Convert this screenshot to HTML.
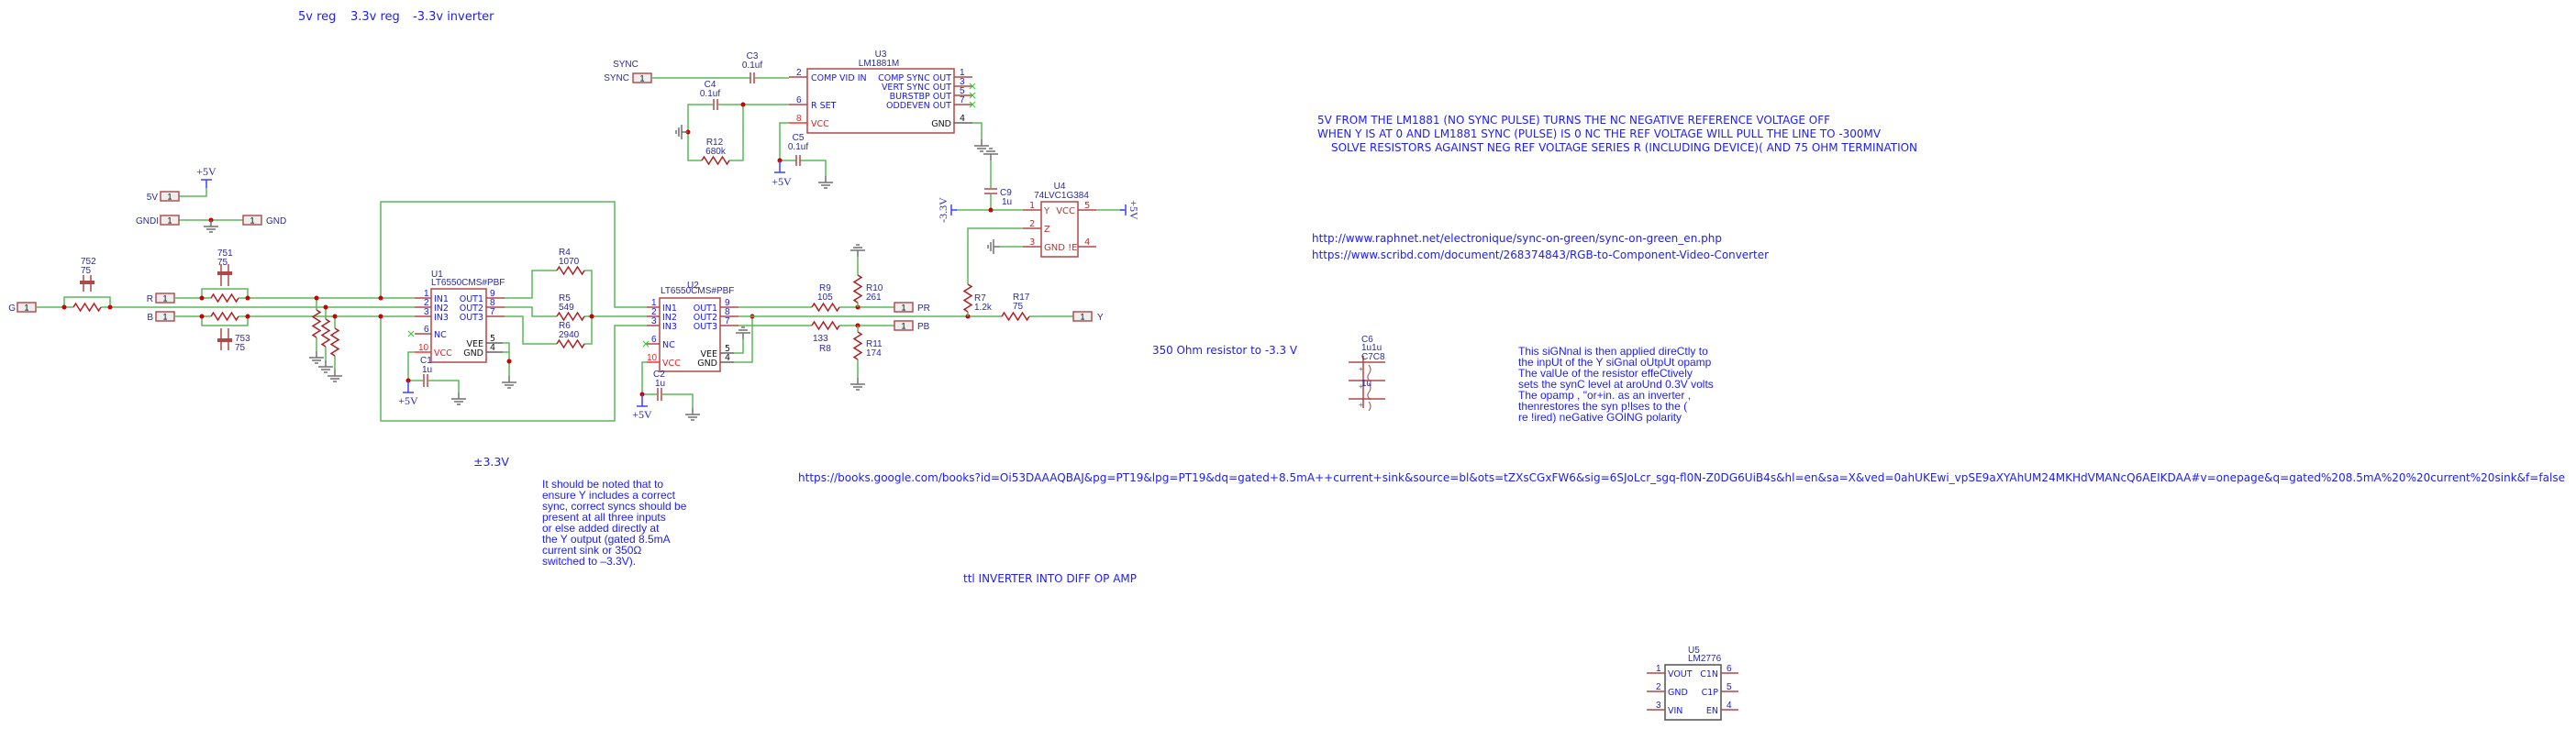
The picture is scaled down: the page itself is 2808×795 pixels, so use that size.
<!DOCTYPE html>
<html><head><meta charset="utf-8"><style>
html,body{margin:0;padding:0;background:#fff}
svg{display:block}
.w{stroke:#5cb85c;stroke-width:1.5;fill:none}
.c{stroke:#b04848;stroke-width:1.5;fill:none}
.g{stroke:#707070;stroke-width:1.5;fill:none}
.b{stroke:#4040ff;stroke-width:1.5;fill:none}
.k{stroke:#606060;stroke-width:1.5;fill:none}
.x{stroke:#33cc33;stroke-width:1.2}
text{font-family:"Liberation Sans",sans-serif}
.l{font-size:10px;fill:#2a2a9a}
.p{font-size:9.5px;fill:#1818e8;font-family:"DejaVu Sans",sans-serif}
.pr{font-size:9.5px;fill:#e02020;font-family:"DejaVu Sans",sans-serif}
.pk{font-size:9.5px;fill:#111;font-family:"DejaVu Sans",sans-serif}
.n{font-size:10px;fill:#1818e8}
.d{font-size:10px;fill:#a03c3c;font-family:"DejaVu Sans",sans-serif}
.t{font-family:"DejaVu Sans","Liberation Sans",sans-serif;fill:#2020ee}
.s{font-family:"Liberation Serif",serif;font-size:12px;fill:#2a2aa0}
.bx{fill:#eeeeee;stroke:#b05050;stroke-width:1.5}
</style></head><body>
<svg width="2808" height="795" viewBox="0 0 2808 795" xmlns="http://www.w3.org/2000/svg">
<defs>
<path id="rh" d="M0 0 L2.5 -4 L7.5 4 L12.5 -4 L17.5 4 L22.5 -4 L27.5 4 L30 0" stroke="#b02020" stroke-width="1.5" fill="none"/>
<g id="gd"><path d="M0 0 V7 M-8 7 H8 M-5 10 H5 M-2 13 H2" stroke="#707070" stroke-width="1.5" fill="none"/></g>
<g id="gu"><path d="M0 0 V-7 M-8 -7 H8 M-5 -10 H5 M-2 -13 H2" stroke="#707070" stroke-width="1.5" fill="none"/></g>
<g id="gl"><path d="M0 0 H-7 M-7 -8 V8 M-10 -5 V5 M-13 -2 V2" stroke="#707070" stroke-width="1.5" fill="none"/></g>
</defs>

<text class="t" x="325" y="22" font-size="13">5v reg</text>
<text class="t" x="382" y="22" font-size="13">3.3v reg</text>
<text class="t" x="450" y="22" font-size="13">-3.3v inverter</text>

<text class="s" x="225" y="191" text-anchor="middle">+5V</text>
<path class="b" d="M219 196 H231 M225 196 V205"/>
<path class="w" d="M225 205 V214 H195"/>
<rect class="bx" x="175" y="209" width="20" height="10"/><text x="185" y="217.5" font-size="9" text-anchor="middle">1</text>
<text class="l" x="172" y="218" text-anchor="end">5V</text>
<path class="w" d="M195 240 H265"/>
<rect class="bx" x="175" y="235" width="20" height="10"/><text x="185" y="243.5" font-size="9" text-anchor="middle">1</text>
<rect class="bx" x="265" y="235" width="20" height="10"/><text x="275" y="243.5" font-size="9" text-anchor="middle">1</text>
<text class="l" x="173" y="244" text-anchor="end">GNDI</text>
<text class="l" x="290" y="244">GND</text>
<circle cx="230" cy="240" r="2.5" fill="#cc0000"/>
<use href="#gd" x="230" y="240"/>

<rect class="bx" x="19" y="330" width="20" height="10"/><text x="29" y="338.5" font-size="9" text-anchor="middle">1</text>
<text class="l" x="17" y="339" text-anchor="end">G</text>
<path class="w" d="M39 335 H80 M110 335 H452 M70 335 V324 H120 V335"/>
<use href="#rh" x="80" y="335"/>
<circle cx="70" cy="335" r="2.5" fill="#cc0000"/><circle cx="120" cy="335" r="2.5" fill="#cc0000"/>
<path class="c" d="M91 300 V318 M99 300 V318"/><rect x="87" y="306" width="16" height="4" fill="#b04848"/>
<text class="l" x="88" y="288">752</text><text class="l" x="88" y="298">75</text>

<rect class="bx" x="170" y="320" width="20" height="10"/><text x="180" y="328.5" font-size="9" text-anchor="middle">1</text>
<text class="l" x="167" y="329" text-anchor="end">R</text>
<path class="w" d="M190 325 H230 M260 325 H452 M220 325 V315 H270 V325"/>
<use href="#rh" x="230" y="325"/>
<circle cx="220" cy="325" r="2.5" fill="#cc0000"/><circle cx="270" cy="325" r="2.5" fill="#cc0000"/>
<path class="c" d="M241 288 V312 M249 288 V312"/><rect x="237" y="296" width="16" height="4" fill="#b04848"/>
<text class="l" x="237" y="279">751</text><text class="l" x="237" y="289">75</text>

<rect class="bx" x="170" y="340" width="20" height="10"/><text x="180" y="348.5" font-size="9" text-anchor="middle">1</text>
<text class="l" x="167" y="349" text-anchor="end">B</text>
<path class="w" d="M190 345 H230 M260 345 H452 M220 345 V355 H270 V345"/>
<use href="#rh" x="230" y="345"/>
<circle cx="220" cy="345" r="2.5" fill="#cc0000"/><circle cx="270" cy="345" r="2.5" fill="#cc0000"/>
<path class="c" d="M241 358 V382 M249 358 V382"/><rect x="237" y="369" width="16" height="4" fill="#b04848"/>
<text class="l" x="256" y="372">753</text><text class="l" x="256" y="382">75</text>

<path class="w" d="M345 325 V338 M345 368 V383 M355 335 V348 M355 378 V393 M365 345 V358 M365 388 V403"/>
<use href="#rh" transform="translate(345 338) rotate(90)"/>
<use href="#rh" transform="translate(355 348) rotate(90)"/>
<use href="#rh" transform="translate(365 358) rotate(90)"/>
<use href="#gd" x="345" y="383"/><use href="#gd" x="355" y="393"/><use href="#gd" x="365" y="403"/>
<circle cx="345" cy="325" r="2.5" fill="#cc0000"/><circle cx="355" cy="335" r="2.5" fill="#cc0000"/><circle cx="365" cy="345" r="2.5" fill="#cc0000"/>

<path class="w" d="M415 325 V220 H670 V335 H705 M415 345 V459 H670 V355 H705"/>
<circle cx="415" cy="325" r="2.5" fill="#cc0000"/><circle cx="415" cy="345" r="2.5" fill="#cc0000"/>

<rect class="c" x="470" y="315" width="60" height="80"/>
<path class="c" d="M452 325 H470 M452 335 H470 M452 345 H470 M452 364 H470 M530 325 H550 M530 335 H550 M530 345 H550"/>
<path stroke="#ff3030" stroke-width="1.5" d="M452 384 H470"/>
<path class="k" d="M530 374 H548 M530 384 H548"/>
<text class="n" x="462" y="323">1</text><text class="n" x="462" y="333">2</text><text class="n" x="462" y="343">3</text><text class="n" x="462" y="362">6</text>
<text x="456" y="382" font-size="10" fill="#ff2020">10</text>
<text class="n" x="534" y="323">9</text><text class="n" x="534" y="333">8</text><text class="n" x="534" y="343">7</text><text class="pk" x="534" y="372" font-size="10">5</text><text class="pk" x="534" y="382" font-size="10">4</text>
<text class="p" x="473" y="329">IN1</text><text class="p" x="473" y="339">IN2</text><text class="p" x="473" y="349">IN3</text><text class="p" x="473" y="368">NC</text><text class="pr" x="473" y="388">VCC</text>
<text class="p" x="527" y="329" text-anchor="end">OUT1</text><text class="p" x="527" y="339" text-anchor="end">OUT2</text><text class="p" x="527" y="349" text-anchor="end">OUT3</text>
<text class="pk" x="527" y="378" text-anchor="end">VEE</text><text class="pk" x="527" y="388" text-anchor="end">GND</text>
<path class="x" d="M445 361 L451 367 M451 361 L445 367"/>
<text class="l" x="470" y="302">U1</text><text class="l" x="470" y="311">LT6550CMS#PBF</text>
<path class="w" d="M548 374 H555 V410 M548 384 H555"/>
<circle cx="555" cy="394" r="2.5" fill="#cc0000"/><use href="#gd" x="555" y="410"/>
<path class="w" d="M452 384 H445 V415 H461 M467 415 H500 V428"/>
<path class="c" d="M462 408 V422 M466 408 V422"/>
<use href="#gd" x="500" y="428"/>
<circle cx="445" cy="415" r="2.5" fill="#cc0000"/>
<path class="b" d="M445 415 V428 M439 428 H451"/>
<text class="s" x="445" y="441" text-anchor="middle">+5V</text>
<text class="l" x="458" y="396">C1</text><text class="l" x="460" y="406">1u</text>

<path class="w" d="M550 325 H580 V295 H607 M637 295 H645 V375 H637 M550 335 H580 V345 H607 M637 345 H705 M550 345 H570 V375 H607"/>
<use href="#rh" x="607" y="295"/><use href="#rh" x="607" y="345"/><use href="#rh" x="607" y="375"/>
<circle cx="645" cy="345" r="2.5" fill="#cc0000"/>
<text class="l" x="609" y="278">R4</text><text class="l" x="609" y="288">1070</text>
<text class="l" x="609" y="328">R5</text><text class="l" x="609" y="338">549</text>
<text class="l" x="609" y="358">R6</text><text class="l" x="609" y="368">2940</text>

<rect class="c" x="719" y="325" width="66" height="80"/>
<path class="c" d="M705 335 H719 M705 345 H719 M705 355 H719 M705 375 H719 M785 335 H805 M785 345 H805 M785 355 H805"/>
<path stroke="#ff3030" stroke-width="1.5" d="M705 395 H719"/>
<path class="k" d="M785 385 H800 M785 395 H800"/>
<text class="n" x="710" y="333">1</text><text class="n" x="710" y="343">2</text><text class="n" x="710" y="353">3</text><text class="n" x="710" y="373">6</text>
<text x="705" y="393" font-size="10" fill="#ff2020">10</text>
<text class="n" x="790" y="333">9</text><text class="n" x="790" y="343">8</text><text class="n" x="790" y="353">7</text><text class="pk" x="790" y="383" font-size="10">5</text><text class="pk" x="790" y="393" font-size="10">4</text>
<text class="p" x="722" y="339">IN1</text><text class="p" x="722" y="349">IN2</text><text class="p" x="722" y="359">IN3</text><text class="p" x="722" y="379">NC</text><text class="pr" x="722" y="399">VCC</text>
<text class="p" x="782" y="339" text-anchor="end">OUT1</text><text class="p" x="782" y="349" text-anchor="end">OUT2</text><text class="p" x="782" y="359" text-anchor="end">OUT3</text>
<text class="pk" x="782" y="389" text-anchor="end">VEE</text><text class="pk" x="782" y="399" text-anchor="end">GND</text>
<path class="x" d="M701 372 L707 378 M707 372 L701 378"/>
<text class="l" x="749" y="314">U2</text><text class="l" x="720" y="320">LT6550CMS#PBF</text>
<path class="w" d="M705 395 H700 V430 H716 M722 430 H755 V445"/>
<path class="c" d="M717 423 V437 M721 423 V437"/>
<use href="#gd" x="755" y="445"/>
<circle cx="700" cy="430" r="2.5" fill="#cc0000"/>
<path class="b" d="M700 430 V443 M694 443 H706"/>
<text class="s" x="700" y="456" text-anchor="middle">+5V</text>
<text class="l" x="712" y="411">C2</text><text class="l" x="714" y="421">1u</text>
<path class="w" d="M800 385 H810 V370 M800 395 H820 V345"/>
<use href="#gu" x="810" y="370"/>
<circle cx="820" cy="345" r="2.5" fill="#cc0000"/>

<path class="w" d="M805 335 H885 M915 335 H975 M805 345 H1092 M1122 345 H1170 M805 355 H885 M915 355 H975"/>
<use href="#rh" x="885" y="335"/><use href="#rh" x="885" y="355"/><use href="#rh" x="1092" y="345"/>
<circle cx="935" cy="335" r="2.5" fill="#cc0000"/><circle cx="935" cy="355" r="2.5" fill="#cc0000"/><circle cx="1055" cy="345" r="2.5" fill="#cc0000"/>
<rect class="bx" x="975" y="330" width="20" height="10"/><text x="985" y="338.5" font-size="9" text-anchor="middle">1</text><text class="l" x="1000" y="339">PR</text>
<rect class="bx" x="975" y="350" width="20" height="10"/><text x="985" y="358.5" font-size="9" text-anchor="middle">1</text><text class="l" x="1000" y="359">PB</text>
<rect class="bx" x="1170" y="340" width="20" height="10"/><text x="1180" y="348.5" font-size="9" text-anchor="middle">1</text><text class="l" x="1196" y="349">Y</text>
<path class="w" d="M935 335 V330 M935 300 V280 M935 355 V362 M935 392 V412 M1055 345 V340 M1055 310 V249 H1115"/>
<use href="#rh" transform="translate(935 300) rotate(90)"/>
<use href="#rh" transform="translate(935 362) rotate(90)"/>
<use href="#rh" transform="translate(1055 310) rotate(90)"/>
<use href="#gu" x="935" y="280"/><use href="#gd" x="935" y="412"/>
<text class="l" x="893" y="317">R9</text><text class="l" x="891" y="327">105</text>
<text class="l" x="944" y="317">R10</text><text class="l" x="944" y="327">261</text>
<text class="l" x="886" y="372">133</text><text class="l" x="893" y="383">R8</text>
<text class="l" x="944" y="378">R11</text><text class="l" x="944" y="388">174</text>
<text class="l" x="1062" y="328">R7</text><text class="l" x="1062" y="338">1.2k</text>
<text class="l" x="1104" y="327">R17</text><text class="l" x="1104" y="337">75</text>

<rect class="c" x="1135" y="220" width="40" height="60"/>
<path class="c" d="M1115 229 H1135 M1115 249 H1135 M1115 269 H1135 M1175 229 H1195 M1175 269 H1195"/>
<text class="d" x="1122" y="227">1</text><text class="d" x="1122" y="247">2</text><text class="d" x="1122" y="267">3</text><text class="d" x="1182" y="227">5</text><text class="d" x="1182" y="267">4</text>
<text class="d" x="1138" y="233">Y</text><text class="d" x="1138" y="253">Z</text><text class="d" x="1138" y="273" font-size="9">GND !E</text><text class="d" x="1172" y="233" text-anchor="end">VCC</text>
<text class="l" x="1155" y="206" text-anchor="middle">U4</text><text class="l" x="1157" y="216" text-anchor="middle">74LVC1G384</text>
<path class="w" d="M1115 229 H1042 M1080 229 V212 M1080 205 V175 M1115 269 H1090 M1195 229 H1225"/>
<path class="c" d="M1073 211 H1087 M1073 206 H1087"/>
<circle cx="1080" cy="229" r="2.5" fill="#cc0000"/>
<use href="#gu" x="1080" y="175"/>
<use href="#gl" x="1090" y="269"/>
<path class="b" d="M1037 223 V235 M1037 229 H1043 M1227 223 V235 M1221 229 H1227"/>
<text class="s" transform="translate(1032 229) rotate(-90)" text-anchor="middle">-3.3V</text>
<text class="s" transform="translate(1232 229) rotate(90)" text-anchor="middle">+5V</text>
<text class="l" x="1090" y="213">C9</text><text class="l" x="1092" y="223">1u</text>

<rect class="bx" x="690" y="80" width="20" height="10"/><text x="700" y="88.5" font-size="9" text-anchor="middle">1</text>
<text class="l" x="686" y="88" text-anchor="end">SYNC</text>
<text class="l" x="682" y="73" text-anchor="middle">SYNC</text>
<path class="w" d="M710 85 H818 M823 85 H860"/>
<path class="c" d="M818 79 V91 M822 79 V91"/>
<text class="l" x="820" y="64" text-anchor="middle">C3</text><text class="l" x="820" y="74" text-anchor="middle">0.1uf</text>
<rect class="c" x="880" y="75" width="160" height="70"/>
<path class="c" d="M860 84 H880 M860 114 H880 M1040 84 H1060 M1040 94 H1060 M1040 104 H1060 M1040 114 H1060"/>
<path stroke="#ff3030" stroke-width="1.5" d="M860 134 H880"/>
<path class="k" d="M1040 134 H1060"/>
<text class="n" x="868" y="82">2</text><text class="n" x="868" y="112">6</text><text x="868" y="132" font-size="10" fill="#ff2020">8</text>
<text class="n" x="1046" y="82">1</text><text class="n" x="1046" y="92">3</text><text class="n" x="1046" y="102">5</text><text class="n" x="1046" y="112">7</text><text class="pk" x="1046" y="132" font-size="10">4</text>
<text class="p" x="884" y="88" font-size="8.5">COMP VID IN</text><text class="p" x="884" y="118" font-size="8.5">R SET</text><text class="pr" x="884" y="138" font-size="8.5">VCC</text>
<text class="p" x="1037" y="88" text-anchor="end" font-size="8.5">COMP SYNC OUT</text>
<text class="p" x="1037" y="98" text-anchor="end" font-size="8.5">VERT SYNC OUT</text>
<text class="p" x="1037" y="108" text-anchor="end" font-size="8.5">BURSTBP OUT</text>
<text class="p" x="1037" y="118" text-anchor="end" font-size="8.5">ODDEVEN OUT</text>
<text class="pk" x="1037" y="138" text-anchor="end" font-size="8.5">GND</text>
<path class="x" d="M1057 91 L1063 97 M1063 91 L1057 97 M1057 101 L1063 107 M1063 101 L1057 107 M1057 111 L1063 117 M1063 111 L1057 117"/>
<text class="l" x="960" y="62" text-anchor="middle">U3</text><text class="l" x="958" y="72" text-anchor="middle">LM1881M</text>
<path class="w" d="M1060 134 H1070 V152"/>
<use href="#gd" x="1070" y="152"/>
<path class="w" d="M860 114 H783 M777 114 H750 V175 H765 M795 175 H810 V114"/>
<path class="c" d="M778 108 V120 M782 108 V120"/>
<use href="#rh" x="765" y="175"/>
<circle cx="810" cy="114" r="2.5" fill="#cc0000"/><circle cx="750" cy="144" r="2.5" fill="#cc0000"/>
<use href="#gl" x="750" y="144"/>
<text class="l" x="774" y="95" text-anchor="middle">C4</text><text class="l" x="774" y="105" text-anchor="middle">0.1uf</text>
<text class="l" x="779" y="158" text-anchor="middle">R12</text><text class="l" x="780" y="168" text-anchor="middle">680k</text>
<path class="w" d="M860 134 H850 V175 H868 M872 175 H900 V192"/>
<path class="c" d="M868 169 V181 M872 169 V181"/>
<use href="#gd" x="900" y="192"/>
<circle cx="850" cy="175" r="2.5" fill="#cc0000"/>
<path class="b" d="M850 175 V188 M844 188 H856"/>
<text class="s" x="852" y="202" text-anchor="middle">+5V</text>
<text class="l" x="870" y="153" text-anchor="middle">C5</text><text class="l" x="870" y="163" text-anchor="middle">0.1uf</text>

<path class="c" d="M1470 395 H1510 M1470 415 H1510 M1470 435 H1510 M1486 388 V445"/>
<path d="M1492 398 q4 5 0 10 q-3 4 2 8 M1492 418 q4 5 0 10 q-3 4 2 8 M1492 438 q4 5 0 10" stroke="#b04848" stroke-width="1" fill="none"/>
<text x="1481" y="405" font-size="8" fill="#b04848">+</text><text x="1481" y="424" font-size="8" fill="#b04848">+</text><text x="1481" y="444" font-size="8" fill="#b04848">+</text>
<text class="l" x="1484" y="373">C6</text><text class="l" x="1484" y="382">1u1u</text><text class="l" x="1484" y="392">C7C8</text><text class="l" x="1484" y="421">1u</text>

<text class="t" x="1436" y="135" font-size="12.5" textLength="559" lengthAdjust="spacingAndGlyphs">5V FROM THE LM1881 (NO SYNC PULSE) TURNS THE NC NEGATIVE REFERENCE VOLTAGE OFF</text>
<text class="t" x="1436" y="150" font-size="12.5" textLength="614" lengthAdjust="spacingAndGlyphs">WHEN Y IS AT 0 AND LM1881 SYNC (PULSE) IS 0 NC THE REF VOLTAGE WILL PULL THE LINE TO -300MV</text>
<text class="t" x="1451" y="165" font-size="12.5" textLength="639" lengthAdjust="spacingAndGlyphs">SOLVE RESISTORS AGAINST NEG REF VOLTAGE SERIES R (INCLUDING DEVICE)( AND 75 OHM TERMINATION</text>
<text class="t" x="1430" y="264" font-size="12.5" textLength="447" lengthAdjust="spacingAndGlyphs">http://www.raphnet.net/electronique/sync-on-green/sync-on-green_en.php</text>
<text class="t" x="1430" y="282" font-size="12.5" textLength="498" lengthAdjust="spacingAndGlyphs">https://www.scribd.com/document/268374843/RGB-to-Component-Video-Converter</text>
<text class="t" x="1256" y="386" font-size="12.5" textLength="158" lengthAdjust="spacingAndGlyphs">350 Ohm resistor to -3.3 V</text>
<g class="t" font-size="12">
<text x="1655" y="387">This siGNnal is then applied direCtly to</text>
<text x="1655" y="399">the inpUt of the Y siGnal oUtpUt opamp</text>
<text x="1655" y="411"> The valUe of the resistor effeCtively</text>
<text x="1655" y="423">sets the synC level at aroUnd 0.3V volts</text>
<text x="1655" y="435">The opamp , "or+in. as an inverter ,</text>
<text x="1655" y="447">thenrestores the syn   p!lses to the (</text>
<text x="1655" y="459">re  !ired) neGative GOING polarity</text>
</g>
<text class="t" x="516" y="508" font-size="12.5">±3.3V</text>
<g class="t" font-size="12">
<text x="591" y="532">It should be noted that to</text>
<text x="591" y="544">ensure Y includes a correct</text>
<text x="591" y="556">sync, correct syncs should be</text>
<text x="591" y="568"> present at all three inputs</text>
<text x="591" y="580"> or else added directly at</text>
<text x="591" y="592">the Y output (gated 8.5mA</text>
<text x="591" y="604">current sink or 350Ω</text>
<text x="591" y="616">switched to –3.3V).</text>
</g>
<text class="t" x="870" y="525" font-size="12.5" textLength="1926" lengthAdjust="spacingAndGlyphs">https://books.google.com/books?id=Oi53DAAAQBAJ&amp;pg=PT19&amp;lpg=PT19&amp;dq=gated+8.5mA++current+sink&amp;source=bl&amp;ots=tZXsCGxFW6&amp;sig=6SJoLcr_sgq-fl0N-Z0DG6UiB4s&amp;hl=en&amp;sa=X&amp;ved=0ahUKEwi_vpSE9aXYAhUM24MKHdVMANcQ6AEIKDAA#v=onepage&amp;q=gated%208.5mA%20%20current%20sink&amp;f=false</text>
<text class="t" x="1050" y="635" font-size="12.5" textLength="189" lengthAdjust="spacingAndGlyphs">ttl INVERTER INTO DIFF OP AMP</text>

<rect x="1815" y="725" width="61" height="60" fill="none" stroke="#505050" stroke-width="1.5"/>
<path class="c" d="M1795 734 H1815 M1795 754 H1815 M1795 774 H1815 M1876 734 H1895 M1876 754 H1895 M1876 774 H1895"/>
<text class="n" x="1805" y="732">1</text><text class="n" x="1805" y="752">2</text><text class="n" x="1805" y="772">3</text>
<text class="n" x="1882" y="732">6</text><text class="n" x="1882" y="752">5</text><text class="n" x="1882" y="772">4</text>
<text class="p" x="1818" y="738">VOUT</text><text class="p" x="1818" y="758">GND</text><text class="p" x="1818" y="778">VIN</text>
<text class="p" x="1873" y="738" text-anchor="end">C1N</text><text class="p" x="1873" y="758" text-anchor="end">C1P</text><text class="p" x="1873" y="778" text-anchor="end">EN</text>
<text class="l" x="1840" y="712">U5</text><text class="l" x="1840" y="721">LM2776</text>
</svg>
</body></html>
